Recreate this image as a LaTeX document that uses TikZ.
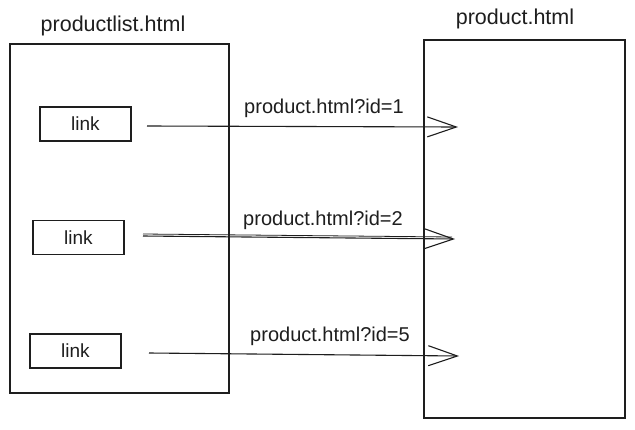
\documentclass[tikz,border=0pt]{standalone}
\usepackage{fontspec}
\setmainfont{Liberation Sans}
\usetikzlibrary{arrows.meta}
\definecolor{ink}{HTML}{1E1E1E}
\tikzset{
  page/.style={draw=ink, line width=1.2pt, inner sep=0pt, outer sep=0pt},
  linkbox/.style={draw=ink, line width=1.2pt, minimum width=91pt, minimum height=34pt, inner sep=0pt, outer sep=0pt, text=ink, font=\fontsize{19}{19}\selectfont},
  title/.style={text=ink, inner sep=0pt, font=\fontsize{21.5}{21.5}\selectfont},
  lbl/.style={text=ink, inner sep=0pt, font=\fontsize{20}{20}\selectfont},
  arr/.style={draw=ink, line width=1.1pt, -{Straight Barb[length=29pt,width=20pt,line width=1.1pt]}}
}
\begin{document}
\begin{tikzpicture}[x=1pt,y=-1pt]
\useasboundingbox[fill=white] (0,0) rectangle (635,429);
% pages
\node[page, minimum width=219pt, minimum height=349pt] (list) at (119.5,218.5) {};
\node[page, minimum width=201pt, minimum height=378pt] (prod) at (524.5,229) {};
\node[title] (listtitle) at (113,26) {productlist.html};
\node[title] (prodtitle) at (515,19) {product.html};
% links
\node[linkbox] (l1) at (85.5,124) {link};
\node[linkbox] (l2) at (78.5,237.5) {link};
\node[linkbox] (l3) at (75.5,351) {link};
% arrow ends
\coordinate (a1s) at (147,126);
\coordinate (a1e) at (458,127);
\coordinate (a2s) at (143,236);
\coordinate (a2e) at (455,239);
\coordinate (a3s) at (149,353);
\coordinate (a3e) at (459,356);
\draw[arr] (a1s) -- (a1e);
\draw[arr] (a2s) -- (a2e);
\draw[draw=ink, line width=0.8pt] (143,234) -- (452,237);
\draw[arr] (a3s) -- (a3e);
% labels
\node[lbl] (t1) at (324,108) {product.html?id=1};
\node[lbl] (t2) at (323,220) {product.html?id=2};
\node[lbl] (t3) at (330,336) {product.html?id=5};
\end{tikzpicture}
\end{document}
